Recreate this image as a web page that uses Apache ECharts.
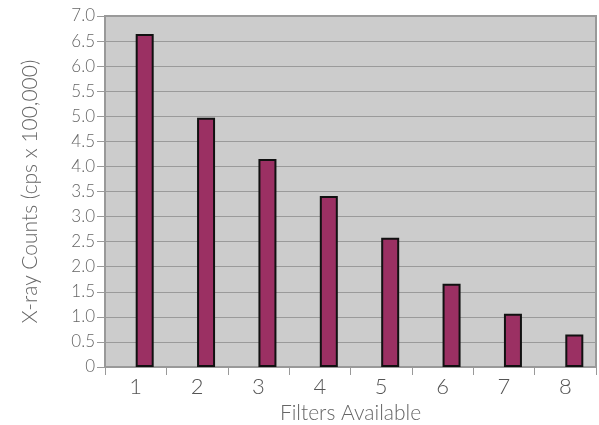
<!DOCTYPE html>
<html><head><meta charset="utf-8">
<script src="https://cdn.jsdelivr.net/npm/echarts@6/dist/echarts.min.js"></script>
<style>html,body{margin:0;padding:0;background:#fff}#c{width:599px;height:425px}</style>
</head><body><div id="c"></div>
<script>
const categories = ['1','2','3','4','5','6','7','8'];
const counts = [6.64, 4.97, 4.15, 3.41, 2.58, 1.66, 1.06, 0.65];
const emptySeries = [null, null, null, null, null, null, null, null];
const yTicks = {min: 0, max: 7, interval: 0.5};

const chart = echarts.init(document.getElementById('c'));
const font = 'Lato, "Open Sans", sans-serif';
chart.setOption({
  animation: false,
  backgroundColor: '#fff',
  grid: {left: 105, right: 3, top: 16, bottom: 58, outerBoundsMode: 'none', containLabel: false,
    show: true, backgroundColor: '#cccccc', borderColor: '#999999', borderWidth: 2},
  xAxis: {
    type: 'category', data: categories,
    name: 'Filters Available', nameLocation: 'middle', nameGap: 33,
    nameTextStyle: {color: '#666', fontSize: 21, fontFamily: font, fontWeight: 300},
    axisLine: {show: true, lineStyle: {color: '#999', width: 1}},
    axisTick: {show: true, length: 8, lineStyle: {color: '#999'}},
    axisLabel: {color: '#555', fontSize: 22, fontFamily: font, fontWeight: 300, margin: 9}
  },
  yAxis: {
    type: 'value', min: yTicks.min, max: yTicks.max, interval: yTicks.interval,
    name: 'X-ray Counts (cps x 100,000)', nameLocation: 'middle', nameGap: 64,
    nameTextStyle: {color: '#666', fontSize: 21, fontFamily: font, fontWeight: 300},
    axisLine: {show: true, lineStyle: {color: '#999'}},
    axisTick: {show: true, length: 8, lineStyle: {color: '#999'}},
    axisLabel: {color: '#666', fontSize: 17, fontFamily: font, fontWeight: 300, margin: 10,
      formatter: v => v === 0 ? '0' : v.toFixed(1)},
    splitLine: {show: true, lineStyle: {color: '#9a9a9a', width: 1}}
  },
  series: [
    {type: 'bar', data: emptySeries, barWidth: 18, barGap: '0%'},
    {type: 'bar', data: counts, barWidth: 18, barGap: '0%',
     itemStyle: {color: '#9b3063', borderColor: '#111', borderWidth: 2}}
  ]
});
</script></body></html>
